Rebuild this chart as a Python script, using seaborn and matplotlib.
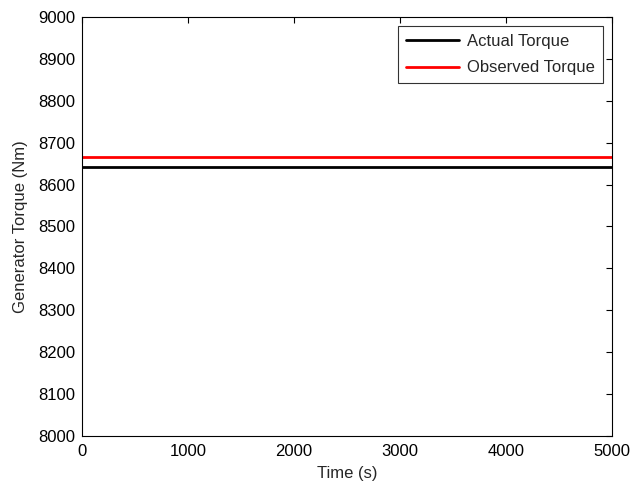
import matplotlib
matplotlib.use("Agg")
import matplotlib.pyplot as plt
import seaborn as sns
import pandas as pd

# Generator torque traces over the simulation run
time_s = [0, 5000]
actual_torque = [8643, 8643]
observed_torque = [8665, 8665]
series_names = ["Actual Torque", "Observed Torque"]
series_colors = ["#000000", "#ff0000"]

x_ticks = [0, 1000, 2000, 3000, 4000, 5000]
y_ticks = list(range(8000, 9001, 100))

df = pd.concat([
    pd.DataFrame({"Time": time_s, "Torque": actual_torque, "Series": series_names[0]}),
    pd.DataFrame({"Time": time_s, "Torque": observed_torque, "Series": series_names[1]}),
])

sns.set_style("white")
plt.rcParams["font.family"] = ["Liberation Sans", "DejaVu Sans"]
plt.rcParams["font.size"] = 12

fig = plt.figure(figsize=(6.3, 4.86), dpi=100)
ax = fig.add_axes([0.130, 0.103, 0.841, 0.862])

sns.lineplot(data=df, x="Time", y="Torque", hue="Series",
             palette=dict(zip(series_names, series_colors)),
             linewidth=2, ax=ax, estimator=None)

ax.set_xlim(0, 5000)
ax.set_ylim(8000, 9000)
ax.set_xticks(x_ticks)
ax.set_yticks(y_ticks)
ax.set_xlabel("Time (s)", fontsize=12, labelpad=5)
ax.set_ylabel("Generator Torque (Nm)", fontsize=12, labelpad=7)
ax.tick_params(direction="in", length=4, width=0.8, top=True, right=True,
               labelsize=12, colors="black")
ax.tick_params(axis="x", pad=6)
ax.tick_params(axis="y", pad=5)
for s in ax.spines.values():
    s.set_visible(True)
    s.set_color("black")
    s.set_linewidth(0.8)

leg = ax.legend(loc="upper right", fontsize=12, frameon=True, fancybox=False,
                edgecolor="black", handlelength=3.2, borderaxespad=0.55,
                labelspacing=0.7, borderpad=0.45, handletextpad=0.5)
leg.get_frame().set_linewidth(0.8)
leg.set_title(None)

fig.savefig("out.png", dpi=100, facecolor="white")
